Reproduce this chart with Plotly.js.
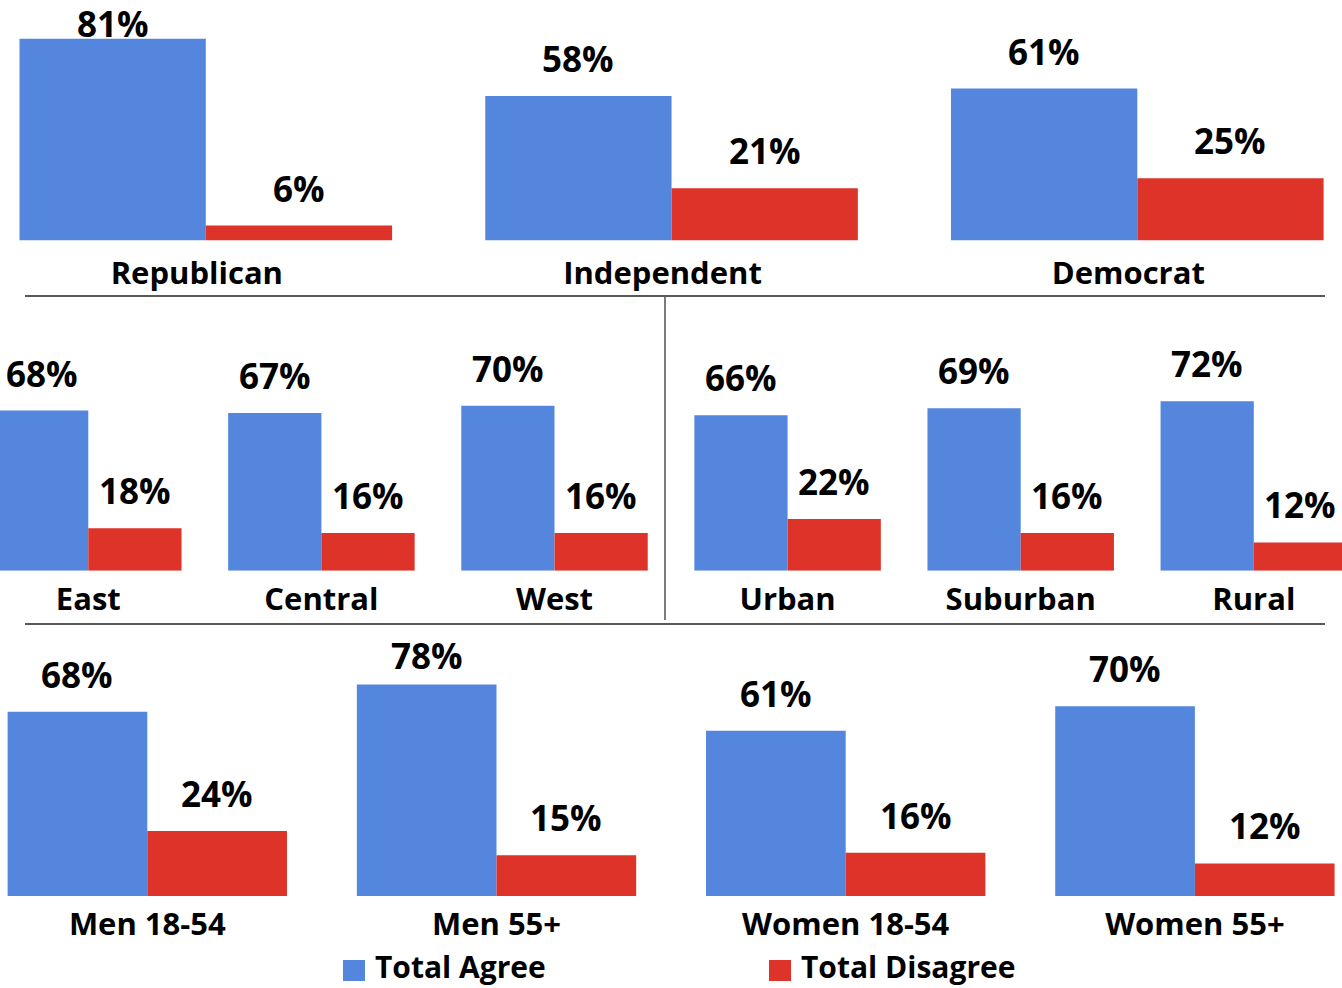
<!DOCTYPE html>
<html>
<head>
<meta charset="utf-8">
<script src="https://cdn.plot.ly/plotly-3.0.1.min.js"></script>
<style>
  html, body { margin: 0; padding: 0; background: #ffffff; }
  #chart { width: 1342px; height: 988px; }
</style>
</head>
<body>
<div id="chart"></div>
<script>
// ---------------- DATA ----------------
const seriesNames = ['Total Agree', 'Total Disagree'];

const partyCategories = ['Republican', 'Independent', 'Democrat'];
const partyAgree      = [81, 58, 61];
const partyDisagree   = [6, 21, 25];

const regionCategories = ['East', 'Central', 'West', 'Urban', 'Suburban', 'Rural'];
const regionAgree      = [68, 67, 70, 66, 69, 72];
const regionDisagree   = [18, 16, 16, 22, 16, 12];

const demoCategories = ['Men 18-54', 'Men 55+', 'Women 18-54', 'Women 55+'];
const demoAgree      = [68, 78, 61, 70];
const demoDisagree   = [24, 15, 16, 12];

// ---------------- STYLE / LAYOUT ----------------
const W = 1342, H = 988;
const BLUE = '#5586DE';
const RED = '#DD3329';
const FONT = '"Open Sans", Lato, sans-serif';

// pixel geometry for each row (layout only)
const rows = [
  { cats: partyCategories,  agree: partyAgree,  dis: partyDisagree,  sfx: '',  base: 240.5, scale: 2.49,  topPx: 0,   c0: 205.8, pitch: 465.75, ceilBase: 38,  standoff: 11, lshift: -9 },
  { cats: regionCategories, agree: regionAgree, dis: regionDisagree, sfx: '2', base: 570.7, scale: 2.355, topPx: 330, c0: 88.3,  pitch: 233.1,  ceilBase: 330, standoff: 7,  lshift: 0 },
  { cats: demoCategories,   agree: demoAgree,   dis: demoDisagree,   sfx: '3', base: 896,   scale: 2.71,  topPx: 640, c0: 147.3, pitch: 349.2,  ceilBase: 670, standoff: 7,  lshift: 0 }
];

const BARGAP = 0.2;
const LABEL_GAP = 23;   // px between bar top and label baseline
const LABEL_SHIFT = 12; // px: annotation box bottom above bar top

const data = [];
const layout = {
  width: W, height: H,
  margin: { l: 0, r: 0, t: 0, b: 0, pad: 0 },
  paper_bgcolor: '#ffffff',
  plot_bgcolor: 'rgba(0,0,0,0)',
  barmode: 'group',
  bargap: BARGAP,
  bargroupgap: 0,
  showlegend: false,
  font: { family: FONT, color: '#000000' },
  annotations: [],
  shapes: []
};

rows.forEach(function (r) {
  const idx = r.cats.map(function (_, i) { return i; });
  const xa = 'x' + r.sfx, ya = 'y' + r.sfx;
  data.push({
    type: 'bar', name: seriesNames[0], x: idx, y: r.agree,
    xaxis: xa, yaxis: ya, marker: { color: BLUE, line: { width: 0 } },
    hoverinfo: 'skip', showlegend: false
  });
  data.push({
    type: 'bar', name: seriesNames[1], x: idx, y: r.dis,
    xaxis: xa, yaxis: ya, marker: { color: RED, line: { width: 0 } },
    hoverinfo: 'skip', showlegend: false
  });

  const yTop = (r.base - r.topPx) / r.scale;
  layout['xaxis' + r.sfx] = {
    domain: [0, 1],
    anchor: ya,
    range: [-r.c0 / r.pitch, (W - r.c0) / r.pitch],
    tickmode: 'array', tickvals: idx, ticktext: r.cats,
    ticks: '', showgrid: false, zeroline: false, showline: false,
    ticklabelstandoff: r.standoff,
    ticklabelshift: r.lshift,
    tickfont: { family: FONT, size: 31, color: '#000000', weight: 700 },
    fixedrange: true
  };
  layout['yaxis' + r.sfx] = {
    domain: [1 - r.base / H, 1 - r.topPx / H],
    anchor: xa,
    range: [0, yTop],
    showgrid: false, zeroline: false, showline: false, showticklabels: false, ticks: '',
    fixedrange: true
  };

  // value labels (clamped under the row ceiling)
  const maxLabelVal = (r.base - (r.ceilBase + LABEL_GAP)) / r.scale;
  const half = (1 - BARGAP) / 4;
  [[r.agree, -half], [r.dis, half]].forEach(function (pair) {
    pair[0].forEach(function (v, i) {
      layout.annotations.push({
        xref: xa, yref: ya,
        x: i + pair[1], y: Math.min(v, maxLabelVal),
        text: v + '%',
        showarrow: false,
        xanchor: 'center', yanchor: 'bottom',
        yshift: LABEL_SHIFT,
        font: { family: FONT, size: 35, color: '#000000', weight: 700 }
      });
    });
  });
});

// separator lines
function py(p) { return 1 - p / H; }
function px(p) { return p / W; }
layout.shapes.push(
  { type: 'line', xref: 'paper', yref: 'paper', x0: px(25), x1: px(1325), y0: py(296), y1: py(296), line: { color: '#222222', width: 1.6 } },
  { type: 'line', xref: 'paper', yref: 'paper', x0: px(25), x1: px(1325), y0: py(624), y1: py(624), line: { color: '#222222', width: 1.6 } },
  { type: 'line', xref: 'paper', yref: 'paper', x0: px(665), x1: px(665), y0: py(297), y1: py(620), line: { color: '#444444', width: 1.4 } }
);

// legend (drawn manually for the large square keys)
const legendItems = [
  { name: seriesNames[0], color: BLUE, sq: 343 },
  { name: seriesNames[1], color: RED, sq: 769 }
];
legendItems.forEach(function (it) {
  layout.shapes.push({
    type: 'rect', xref: 'paper', yref: 'paper',
    x0: px(it.sq), x1: px(it.sq + 22), y0: py(981), y1: py(960),
    fillcolor: it.color, line: { width: 0 }
  });
  layout.annotations.push({
    xref: 'paper', yref: 'paper', x: px(it.sq + 30), y: py(966),
    xanchor: 'left', yanchor: 'middle', showarrow: false,
    text: it.name,
    font: { family: FONT, size: 30, color: '#000000', weight: 700 }
  });
});

Plotly.newPlot('chart', data, layout, { displayModeBar: false, staticPlot: true });
</script>
</body>
</html>
